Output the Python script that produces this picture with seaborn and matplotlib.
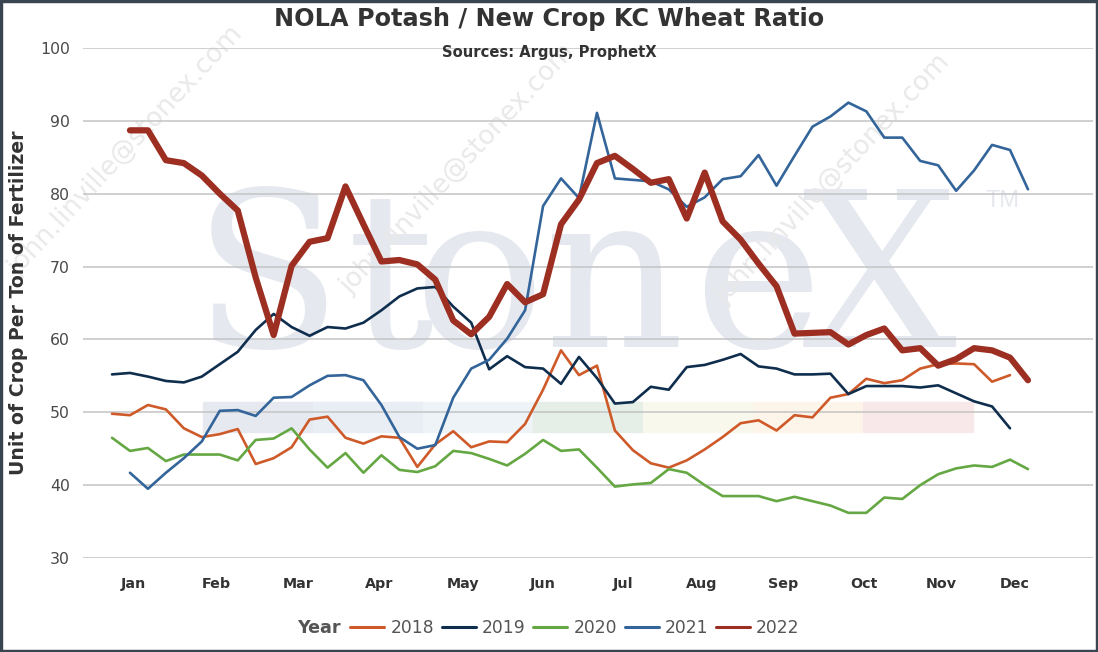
import pandas as pd
import matplotlib.pyplot as plt
import seaborn as sns
from matplotlib.lines import Line2D
from matplotlib.patches import Rectangle

# dados (razão semanal, semana 0 = início de janeiro)
years = ['2018', '2019', '2020', '2021', '2022']
first_week = [0, 0, 0, 1, 1]

r2018 = [49.8, 49.6, 51.0, 50.4, 47.8, 46.6, 47.0, 47.7, 42.9, 43.7, 45.2, 49.0, 49.4,
         46.5, 45.7, 46.7, 46.5, 42.5, 45.6, 47.4, 45.2, 46.0, 45.9, 48.4, 53.1, 58.5,
         55.1, 56.4, 47.5, 44.8, 43.0, 42.4, 43.4, 44.9, 46.6, 48.5, 48.9, 47.5, 49.6,
         49.3, 52.0, 52.5, 54.6, 54.0, 54.4, 56.0, 56.6, 56.7, 56.6, 54.2, 55.1]
r2019 = [55.2, 55.4, 54.9, 54.3, 54.1, 54.9, 56.6, 58.3, 61.3, 63.5, 61.7, 60.5, 61.7,
         61.5, 62.3, 64.0, 65.9, 67.0, 67.2, 64.5, 62.3, 55.9, 57.7, 56.2, 56.0, 53.9,
         57.6, 54.7, 51.2, 51.4, 53.5, 53.1, 56.2, 56.5, 57.2, 58.0, 56.3, 56.0, 55.2,
         55.2, 55.3, 52.5, 53.6, 53.6, 53.6, 53.4, 53.7, 52.6, 51.5, 50.8, 47.8]
r2020 = [46.5, 44.7, 45.1, 43.3, 44.2, 44.2, 44.2, 43.4, 46.2, 46.4, 47.8, 44.9, 42.4,
         44.4, 41.7, 44.1, 42.1, 41.8, 42.6, 44.7, 44.4, 43.6, 42.7, 44.3, 46.2, 44.7,
         44.9, 42.4, 39.8, 40.1, 40.3, 42.2, 41.7, 40.0, 38.5, 38.5, 38.5, 37.8, 38.4,
         37.8, 37.2, 36.2, 36.2, 38.3, 38.1, 40.0, 41.5, 42.3, 42.7, 42.5, 43.5, 42.2]
r2021 = [41.7, 39.5, 41.7, 43.7, 46.0, 50.2, 50.3, 49.5, 52.0, 52.1, 53.7, 55.0, 55.1,
         54.4, 51.0, 46.6, 45.0, 45.5, 52.0, 56.0, 57.2, 60.1, 64.0, 78.3, 82.1, 79.4,
         91.1, 82.1, 81.9, 81.7, 80.6, 78.2, 79.5, 82.0, 82.4, 85.3, 81.1, 85.2, 89.2,
         90.6, 92.5, 91.3, 87.7, 87.7, 84.5, 83.9, 80.4, 83.2, 86.7, 86.0, 80.6]
r2022 = [88.7, 88.7, 84.6, 84.2, 82.5, 80.0, 77.7, 68.5, 60.6, 70.1, 73.4, 73.9, 81.0,
         75.8, 70.7, 70.9, 70.3, 68.2, 62.6, 60.7, 63.1, 67.6, 65.1, 66.2, 75.8, 79.2,
         84.2, 85.2, 83.4, 81.5, 82.0, 76.6, 82.9, 76.2, 73.7, 70.4, 67.3, 60.8, 60.9,
         61.0, 59.3, 60.6, 61.5, 58.5, 58.8, 56.4, 57.3, 58.8, 58.5, 57.5, 54.4]

month_labels = ['Jan', 'Feb', 'Mar', 'Apr', 'May', 'Jun',
                'Jul', 'Aug', 'Sep', 'Oct', 'Nov', 'Dec']
month_pos = [1.17, 5.79, 10.36, 14.87, 19.54, 24.0, 28.45, 32.85, 37.36, 41.87, 46.16, 50.28]

y_ticks = [30, 40, 50, 60, 70, 80, 90, 100]

colors = {'2018': '#cf5a29', '2019': '#0f2e4e', '2020': '#65a843',
          '2021': '#33659a', '2022': '#9d2f22'}
widths = {'2018': 1.9, '2019': 1.9, '2020': 1.9, '2021': 1.9, '2022': 4.5}

# monta o dataframe "longo"
rows = []
for yr, start, vals in zip(years, first_week, [r2018, r2019, r2020, r2021, r2022]):
    for i, v in enumerate(vals):
        rows.append({'week': start + i, 'ratio': v, 'year': yr})
df = pd.DataFrame(rows)

sns.set_style('white')
plt.rcParams['font.family'] = ['DejaVu Sans']

W, H = 1098, 652
fig = plt.figure(figsize=(W / 100, H / 100), dpi=100)
ax = fig.add_axes([83 / W, (H - 558) / H, (1093 - 83) / W, (558 - 48) / H])
ax.set_facecolor('none')

# marca d'água StoneX (letra a letra)
wm = '#e5e8ee'
for ch, px in zip('StoneX', [193, 347, 413, 543, 693, 802]):
    fig.text(px / W, 1 - 347 / H, ch, family='DejaVu Serif', fontsize=157,
             color=wm, ha='left', va='baseline', zorder=-2)
fig.text(985 / W, 1 - 207 / H, 'TM', family='Liberation Sans', fontsize=17,
         color=wm, ha='left', va='baseline', zorder=-2)
band = ['#e6e9f0', '#e9edf4', '#eef3f8', '#e6eee8', '#f8f8ec', '#fdf5e9', '#f8e8ea']
for k, c in enumerate(band):
    fig.patches.append(Rectangle(((203 + 110 * k) / W, 1 - 432 / H), 110 / W, 30 / H,
                                 transform=fig.transFigure, color=c, zorder=-2))
for (px, py) in [(18, 277), (350, 295), (725, 305)]:
    fig.text(px / W, 1 - py / H, 'john.linville@stonex.com', fontsize=19, color='#e9e9e9',
             rotation=47, rotation_mode='anchor', ha='left', va='baseline', zorder=-1)

sns.lineplot(data=df, x='week', y='ratio', hue='year', palette=colors,
             size='year', sizes=widths, legend=False, ax=ax,
             solid_capstyle='round', solid_joinstyle='round')

ax.set_xlim(-1.615, 54.62)
ax.set_ylim(30, 100)
ax.set_yticks(y_ticks)
ax.set_xticks(month_pos)
ax.set_xticklabels(month_labels, fontsize=10.3, fontweight='bold', color='#333333')
ax.tick_params(axis='y', labelsize=11.3, labelcolor='#4a4a4a', length=0, pad=9.4)
ax.tick_params(axis='x', length=0, pad=14)
ax.set_xlabel('')
ax.set_ylabel('')
ax.set_axisbelow(True)
ax.yaxis.grid(True, color='#c4c4c4', linewidth=1.1)
ax.xaxis.grid(False)
for s in ax.spines.values():
    s.set_visible(False)

# títulos
fig.text(0.5, 1 - 26 / H, 'NOLA Potash / New Crop KC Wheat Ratio', ha='center',
         va='baseline', fontsize=17.3, fontweight='bold', color='#333333')
fig.text(549 / W, 1 - 57 / H, 'Sources: Argus, ProphetX', ha='center', va='baseline',
         fontsize=10.6, fontweight='bold', color='#333333')
fig.text(19 / W, 1 - 303 / H, 'Unit of Crop Per Ton of Fertilizer', rotation=90,
         ha='center', va='center', fontsize=13.6, fontweight='bold', color='#333333')

# legenda
handles = [Line2D([], [], color=colors[y], linewidth=2.2) for y in years]
fig.legend(handles, years, loc='center', bbox_to_anchor=(575 / W, 1 - 628 / H), ncol=5,
           frameon=False, handlelength=2.0, handletextpad=0.35, columnspacing=0.45,
           fontsize=12.3, labelcolor='#555555', borderpad=0)
fig.text(341 / W, 1 - 628 / H, 'Year', ha='right', va='center', fontsize=12.6,
         fontweight='bold', color='#555555')

# moldura
fig.patches.append(Rectangle((0, 0), 1, 1, transform=fig.transFigure, fill=False,
                             edgecolor='#3a4551', linewidth=3.9, zorder=10))

fig.savefig('out.png', dpi=100)
